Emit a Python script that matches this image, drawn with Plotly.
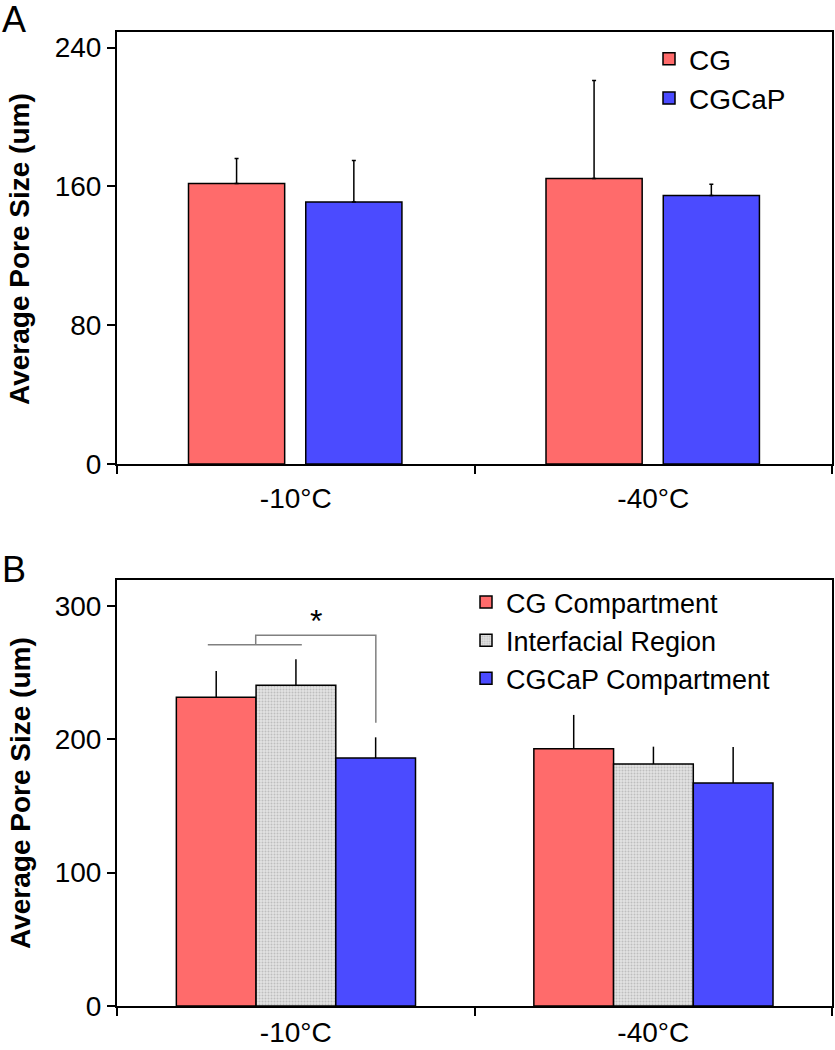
import plotly.graph_objects as go
from plotly.subplots import make_subplots

temps = ["-10°C", "-40°C"]

# panel A
a_names = ["CG", "CGCaP"]
a_means = [[161.7, 164.6], [151.0, 154.8]]
a_errs = [[14.4, 56.4], [24.0, 6.4]]

# panel B
b_names = ["CG Compartment", "Interfacial Region", "CGCaP Compartment"]
b_means = [[231.5, 193.0], [240.5, 181.5], [186.0, 167.3]]
b_errs = [[19.7, 25.3], [19.5, 13.0], [15.5, 27.0]]

# significance bracket in panel B (x in category units, y in data units)
brk_x = [-0.246, 0.017, -0.112, -0.112, 0.224, 0.224]
brk_y = [271, 271, 271, 278, 278, 212.5]

RED = "#FF6B6B"
BLUE = "#4B4BFF"
GREY = "#D4D4D4"
FONT = "Liberation Sans, Arial, sans-serif"

W, H = 835, 1050


def px(x):
    return x / W


def py(y):
    return 1 - y / H


fig = make_subplots(rows=2, cols=1)

a_colors = [RED, BLUE]
a_offsets = [-0.30, 0.028]
for i, name in enumerate(a_names):
    fig.add_trace(go.Bar(
        x=temps, y=a_means[i], name=name,
        marker=dict(color=a_colors[i], line=dict(color="black", width=1.5)),
        width=0.269, offset=a_offsets[i],
        error_y=dict(type="data", array=a_errs[i], arrayminus=[0, 0], symmetric=False,
                     color="black", thickness=1.5, width=2),
        legend="legend",
    ), row=1, col=1)

b_colors = [RED, GREY, BLUE]
b_offsets = [-0.334, -0.111, 0.112]
for i, name in enumerate(b_names):
    marker = dict(color=b_colors[i], line=dict(color="black", width=1.5))
    if i == 1:
        marker["pattern"] = dict(shape=".", bgcolor="#E2E2E2", fgcolor="#9A9A9A",
                                 size=3, solidity=0.35)
    fig.add_trace(go.Bar(
        x=temps, y=b_means[i], name=name, marker=marker,
        width=0.223, offset=b_offsets[i],
        error_y=dict(type="data", array=b_errs[i], arrayminus=[0, 0], symmetric=False,
                     color="black", thickness=1.5, width=0),
        legend="legend2",
    ), row=2, col=1)

# bracket + star
fig.add_trace(go.Scatter(x=[brk_x[0], brk_x[1]], y=[brk_y[0], brk_y[1]], mode="lines",
                         line=dict(color="#808080", width=1.5), showlegend=False,
                         xaxis="x3", yaxis="y2"))
fig.add_trace(go.Scatter(x=brk_x[2:], y=brk_y[2:], mode="lines",
                         line=dict(color="#808080", width=1.5), showlegend=False,
                         xaxis="x3", yaxis="y2"))

axis_common = dict(showline=True, linecolor="black", linewidth=2, mirror=True,
                   ticks="outside", tickcolor="black", tickwidth=2, ticklen=8,
                   showgrid=False, zeroline=False, automargin=False,
                   tickfont=dict(family=FONT, size=28, color="black"))

x_dom = [px(117), px(832)]
fig.update_layout(
    width=W, height=H,
    margin=dict(l=0, r=0, t=0, b=0),
    plot_bgcolor="white", paper_bgcolor="white",
    barmode="overlay",
    font=dict(family=FONT, color="black"),
    xaxis=dict(domain=x_dom, anchor="y", type="category", range=[-0.5, 1.5],
               tickson="boundaries", ticklabelstandoff=8, **axis_common),
    yaxis=dict(domain=[py(464), py(32)], anchor="x", range=[0, 249],
               tickvals=[0, 80, 160, 240], **axis_common),
    xaxis2=dict(domain=x_dom, anchor="y2", type="category", range=[-0.5, 1.5],
                tickson="boundaries", **axis_common),
    yaxis2=dict(domain=[py(1006), py(580)], anchor="x2", range=[0, 319.5],
                tickvals=[0, 100, 200, 300], **axis_common),
    # linear overlay axis for the bracket, aligned with category positions
    xaxis3=dict(domain=x_dom, anchor="y2", overlaying="x2", range=[-0.5, 1.5],
                visible=False, automargin=False),
    legend=dict(x=px(649), y=py(34), xanchor="left", yanchor="top",
                bgcolor="rgba(0,0,0,0)", font=dict(family=FONT, size=28),
                itemwidth=30),
    legend2=dict(x=px(466), y=py(578), xanchor="left", yanchor="top",
                 bgcolor="rgba(0,0,0,0)", font=dict(family=FONT, size=27),
                 itemwidth=30),
    annotations=[
        dict(text="A", x=0, y=1, xref="paper", yref="paper", xanchor="left", yanchor="top",
             showarrow=False, font=dict(family=FONT, size=36), yshift=3),
        dict(text="B", x=0, y=py(547), xref="paper", yref="paper", xanchor="left",
             yanchor="top", showarrow=False, font=dict(family=FONT, size=36)),
        dict(text="<b>Average Pore Size (um)</b>", x=px(20), y=py(249),
             xref="paper", yref="paper", xanchor="center", yanchor="middle",
             textangle=-90, showarrow=False, font=dict(family=FONT, size=28)),
        dict(text="<b>Average Pore Size (um)</b>", x=px(20), y=py(793),
             xref="paper", yref="paper", xanchor="center", yanchor="middle",
             textangle=-90, showarrow=False, font=dict(family=FONT, size=28)),
        dict(text="*", x=0.056, y=289, xref="x3", yref="y2", showarrow=False,
             font=dict(family=FONT, size=32)),
    ],
)

# drop the default page margin so the figure fills the window exactly
fig.write_html("out.html", config={"displayModeBar": False},
               post_script="document.body.style.margin='0';")
